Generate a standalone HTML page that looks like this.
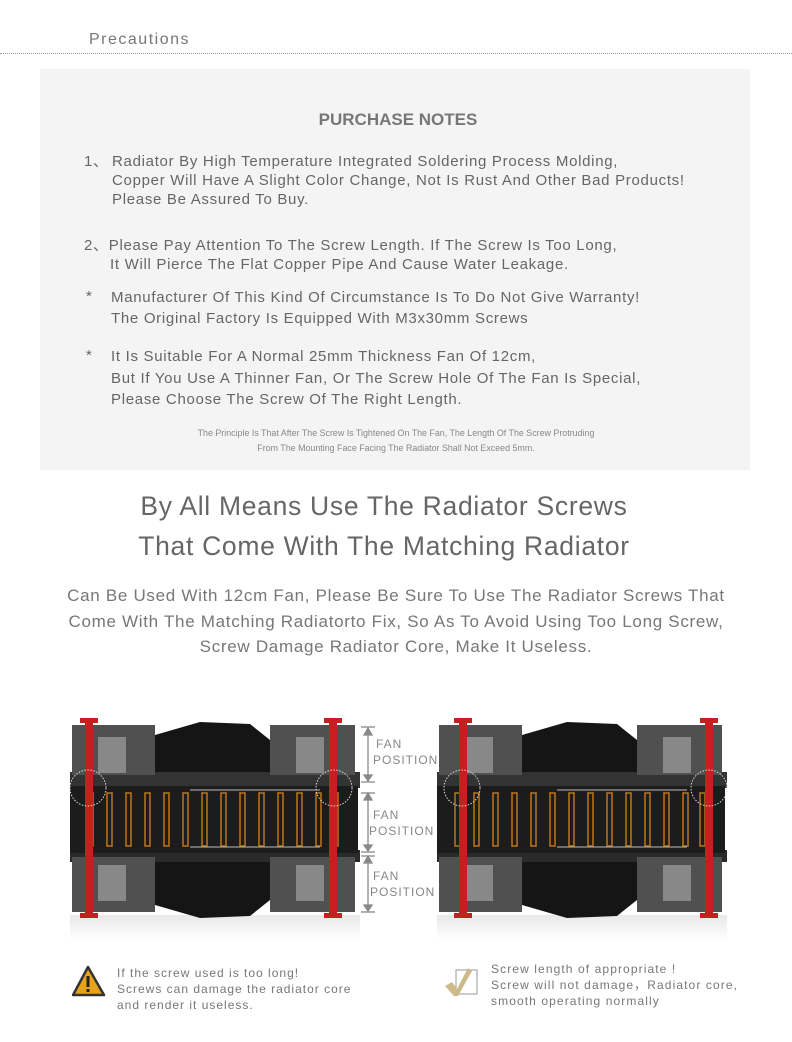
<!DOCTYPE html>
<html><head><meta charset="utf-8"><style>
body{margin:0;background:#fff;width:792px;height:1042px;position:relative;overflow:hidden;font-family:"Liberation Sans",sans-serif;color:#666}
.a{position:absolute;white-space:nowrap}
.t{font-size:15px;color:#666;line-height:19px;letter-spacing:0.7px}
</style></head><body>
<div class="a" style="left:89px;top:31px;font-size:16px;color:#777;letter-spacing:1.5px">Precautions</div>
<div class="a" style="left:0;top:53px;width:792px;border-top:1px dotted #999"></div>
<div class="a" style="left:40px;top:69px;width:710px;height:401px;background:#f4f4f4"></div>
<div class="a" style="left:0;width:792px;text-align:center;top:110px;font-size:17px;font-weight:bold;color:#777;padding-left:2px">PURCHASE NOTES</div>
<div class="a t" style="left:84px;top:152px">1、</div>
<div class="a t" style="left:112px;top:152px">Radiator By High Temperature Integrated Soldering Process Molding,<br>Copper Will Have A Slight Color Change, Not Is Rust And Other Bad Products!<br>Please Be Assured To Buy.</div>
<div class="a t" style="left:84px;top:236px">2、Please Pay Attention To The Screw Length. If The Screw Is Too Long,</div>
<div class="a t" style="left:110px;top:255px">It Will Pierce The Flat Copper Pipe And Cause Water Leakage.</div>
<div class="a t" style="left:86px;top:287px">*</div>
<div class="a t" style="left:111px;top:287px;line-height:21px">Manufacturer Of This Kind Of Circumstance Is To Do Not Give Warranty!<br>The Original Factory Is Equipped With M3x30mm Screws</div>
<div class="a t" style="left:86px;top:346px">*</div>
<div class="a t" style="left:111px;top:346px;line-height:21.5px">It Is Suitable For A Normal 25mm Thickness Fan Of 12cm,<br>But If You Use A Thinner Fan, Or The Screw Hole Of The Fan Is Special,<br>Please Choose The Screw Of The Right Length.</div>
<div class="a" style="left:0;width:792px;text-align:center;top:426px;font-size:8.9px;line-height:15px;color:#888">The Principle Is That After The Screw Is Tightened On The Fan, The Length Of The Screw Protruding<br>From The Mounting Face Facing The Radiator Shall Not Exceed 5mm.</div>
<div class="a" style="left:-12px;width:792px;text-align:center;top:486px;font-size:26.5px;line-height:40px;color:#666;letter-spacing:0.7px">By All Means Use The Radiator Screws<br>That Come With The Matching Radiator</div>
<div class="a" style="left:0;width:792px;text-align:center;top:583px;font-size:17px;line-height:25.5px;color:#777;letter-spacing:0.7px">Can Be Used With 12cm Fan, Please Be Sure To Use The Radiator Screws That<br>Come With The Matching Radiatorto Fix, So As To Avoid Using Too Long Screw,<br>Screw Damage Radiator Core, Make It Useless.</div>
<svg class="a" style="left:0;top:700px" width="792" height="250">
<defs>
<linearGradient id="sh" x1="0" y1="0" x2="0" y2="1"><stop offset="0" stop-color="#e8e8e8"/><stop offset="1" stop-color="#fff"/></linearGradient>
<g id="rad">
<rect x="0" y="215" width="290" height="25" fill="url(#sh)"/>
<path d="M85 35 L130 22 L180 24 L200 40 L200 75 L85 75Z" fill="#151515"/>
<path d="M85 205 L130 218 L180 216 L200 200 L200 155 L85 155Z" fill="#151515"/>
<rect x="0" y="72" width="290" height="16" fill="#333"/>
<rect x="0" y="150" width="290" height="12" fill="#2a2a2a"/>
<rect x="2" y="25" width="83" height="50" fill="#505050"/>
<rect x="28" y="37" width="28" height="36" fill="#888"/>
<rect x="200" y="25" width="85" height="50" fill="#505050"/>
<rect x="226" y="37" width="28" height="36" fill="#888"/>
<rect x="2" y="157" width="83" height="55" fill="#505050"/>
<rect x="28" y="165" width="28" height="36" fill="#888"/>
<rect x="200" y="157" width="85" height="55" fill="#505050"/>
<rect x="226" y="165" width="28" height="36" fill="#888"/>
<rect x="0" y="86" width="288" height="67" fill="#1c1c1c"/>
<g fill="none" stroke="#c07518" stroke-width="1.5">
<rect x="18" y="93" width="5" height="53"/><rect x="37" y="93" width="5" height="53"/><rect x="56" y="93" width="5" height="53"/><rect x="75" y="93" width="5" height="53"/><rect x="94" y="93" width="5" height="53"/><rect x="113" y="93" width="5" height="53"/><rect x="132" y="93" width="5" height="53"/><rect x="151" y="93" width="5" height="53"/><rect x="170" y="93" width="5" height="53"/><rect x="189" y="93" width="5" height="53"/><rect x="208" y="93" width="5" height="53"/><rect x="227" y="93" width="5" height="53"/><rect x="246" y="93" width="5" height="53"/><rect x="263" y="93" width="5" height="53"/>
</g>
<line x1="120" y1="90" x2="250" y2="90" stroke="#bbb" stroke-width="1"/>
<line x1="120" y1="147" x2="250" y2="147" stroke="#bbb" stroke-width="1"/>
</g>
</defs>
<use href="#rad" x="70" y="0"/>
<use href="#rad" x="437" y="0"/>
<g fill="#c42020">
<rect x="85" y="20" width="8" height="198"/><rect x="80" y="18" width="18" height="5"/><rect x="80" y="213" width="18" height="5"/>
<rect x="329" y="20" width="8" height="198"/><rect x="324" y="18" width="18" height="5"/><rect x="324" y="213" width="18" height="5"/>
<rect x="459" y="20" width="8" height="198"/><rect x="454" y="18" width="18" height="5"/><rect x="454" y="213" width="18" height="5"/>
<rect x="705" y="20" width="8" height="198"/><rect x="700" y="18" width="18" height="5"/><rect x="700" y="213" width="18" height="5"/>
</g>
<g fill="none" stroke="#ddd" stroke-dasharray="1.5 1.5">
<circle cx="88" cy="88" r="18"/><circle cx="334" cy="88" r="18"/><circle cx="462" cy="88" r="18"/><circle cx="709" cy="88" r="18"/>
</g>
<g stroke="#888" stroke-width="1.3" fill="#888">
<line x1="368" y1="30" x2="368" y2="80"/><line x1="361" y1="27" x2="375" y2="27"/><line x1="361" y1="82" x2="375" y2="82"/>
<path d="M364 35 L368 28 L372 35Z M364 75 L368 81 L372 75Z"/>
<line x1="368" y1="95" x2="368" y2="150"/><line x1="361" y1="93" x2="375" y2="93"/><line x1="361" y1="152" x2="375" y2="152"/>
<path d="M364 100 L368 93 L372 100Z M364 145 L368 151 L372 145Z"/>
<line x1="368" y1="158" x2="368" y2="210"/><line x1="361" y1="156" x2="375" y2="156"/><line x1="361" y1="212" x2="375" y2="212"/>
<path d="M364 163 L368 156 L372 163Z M364 205 L368 211 L372 205Z"/>
</g>
<g font-family="Liberation Sans,sans-serif" font-size="12" fill="#888" letter-spacing="1">
<text x="376" y="48">FAN</text><text x="373" y="64">POSITION</text>
<text x="373" y="119">FAN</text><text x="369" y="135">POSITION</text>
<text x="373" y="180">FAN</text><text x="370" y="196">POSITION</text>
</g>
</svg>
<svg class="a" style="left:72px;top:965px" width="34" height="32"><path d="M16 2 L32 30 L1 30Z" fill="#e8a21a" stroke="#333" stroke-width="2.5" stroke-linejoin="round"/><rect x="14.5" y="11" width="3" height="11" fill="#222"/><rect x="14.5" y="24" width="3" height="3" fill="#222"/></svg>
<div class="a" style="left:117px;top:965px;font-size:12px;line-height:16px;color:#777;letter-spacing:1px">If the screw used is too long!<br>Screws can damage the radiator core<br>and render it useless.</div>
<svg class="a" style="left:444px;top:966px" width="40" height="32"><rect x="12" y="4" width="21" height="24" fill="none" stroke="#999"/><path d="M1 20 L8 16 L13 23 L24 2 L28 5 L14 30 L10 30Z" fill="#cdb98a"/></svg>
<div class="a" style="left:491px;top:961px;font-size:12px;line-height:16px;color:#777;letter-spacing:1.1px">Screw length of appropriate !<br>Screw will not damage，Radiator core,<br>smooth operating normally</div>
</body></html>
